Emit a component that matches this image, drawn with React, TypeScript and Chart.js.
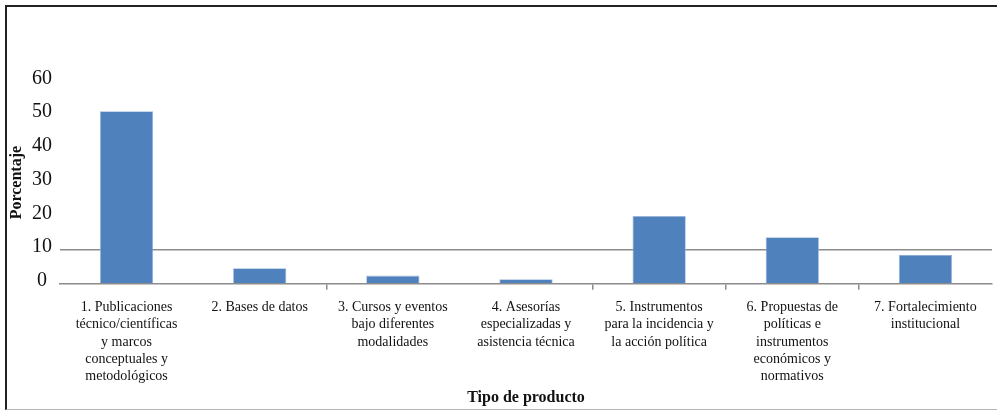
import React, { useEffect, useRef } from "react";
import { Chart, registerables } from "chart.js";

Chart.register(...registerables);

const categories: string[][] = [
  ["1. Publicaciones", "técnico/científicas", "y marcos", "conceptuales y", "metodológicos"],
  ["2. Bases de datos"],
  ["3. Cursos y eventos", "bajo diferentes", "modalidades"],
  ["4. Asesorías", "especializadas y", "asistencia técnica"],
  ["5. Instrumentos", "para la incidencia y", "la acción política"],
  ["6. Propuestas de", "políticas e", "instrumentos", "económicos y", "normativos"],
  ["7. Fortalecimiento", "institucional"],
];
const porcentaje: number[] = [51.2, 4.6, 2.4, 1.3, 20.1, 13.8, 8.6];
const yTicks: number[] = [0, 10, 20, 30, 40, 50, 60];
const visibleXTickMarks: number[] = [2, 4, 5, 6, 7];
const yTitle = "Porcentaje";
const xTitle = "Tipo de producto";

const FONT = "'Liberation Serif', 'DejaVu Serif', serif";

export default function App() {
  const ref = useRef<HTMLCanvasElement | null>(null);

  useEffect(() => {
    if (!ref.current) return;
    const chart = new Chart(ref.current, {
      type: "bar",
      data: {
        labels: categories,
        datasets: [
          {
            label: yTitle,
            data: porcentaje,
            backgroundColor: "#4f81bd",
            borderColor: "#9bb6dc",
            borderWidth: 0.8,
            barPercentage: 0.4,
            categoryPercentage: 1,
          },
        ],
      },
      options: {
        animation: false,
        responsive: true,
        maintainAspectRatio: false,
        layout: { padding: { top: 81.5, left: 0, right: 5, bottom: 0 } },
        plugins: {
          legend: { display: false },
          tooltip: { enabled: false },
        },
        scales: {
          x: {
            afterFit: (scale: any) => {
              scale.height = 127.3;
            },
            grid: {
              offset: true,
              drawOnChartArea: false,
              drawTicks: true,
              tickLength: 6,
              color: (ctx: any) =>
                visibleXTickMarks.includes(ctx.index) ? "#8c8c8c" : "rgba(0,0,0,0)",
              lineWidth: 1.5,
            },
            border: { display: true, color: "#8c8c8c", width: 1.5 },
            ticks: {
              color: "#111",
              font: { family: FONT, size: 14, lineHeight: 1.24 },
              padding: 9,
              maxRotation: 0,
              autoSkip: false,
            },
            title: {
              display: true,
              text: xTitle,
              color: "#111",
              font: { family: FONT, size: 16, weight: "bold" },
              padding: { top: 0, bottom: 4 },
            },
          },
          y: {
            min: 0,
            max: 60,
            afterFit: (scale: any) => {
              scale.width = 60;
            },
            afterBuildTicks: (scale: any) => {
              scale.ticks = yTicks.map((v) => ({ value: v }));
            },
            grid: {
              drawTicks: false,
              color: (ctx: any) => (ctx.tick && ctx.tick.value === 10 ? "#8c8c8c" : "rgba(0,0,0,0)"),
              lineWidth: 1.5,
            },
            border: { display: false },
            ticks: {
              color: "#111",
              font: { family: FONT, size: 20 },
              padding: 8,
              crossAlign: "center",
              labelOffset: -3,
            },
            title: {
              display: true,
              text: yTitle,
              color: "#111",
              font: { family: FONT, size: 16, weight: "bold" },
              padding: { top: 7, bottom: 0 },
            },
          },
        },
      },
    } as any);
    return () => chart.destroy();
  }, []);

  return (
    <div style={{ position: "fixed", left: 0, top: 0, width: 997, height: 411, background: "#fff" }}>
      <canvas ref={ref} style={{ display: "block" }} />
      <div
        style={{
          position: "absolute",
          left: 5,
          top: 5,
          width: 992,
          height: 405,
          boxSizing: "border-box",
          borderTop: "2px solid #222",
          borderLeft: "2px solid #222",
          borderBottom: "1px solid #b5b5b5",
          pointerEvents: "none",
        }}
      />
    </div>
  );
}
